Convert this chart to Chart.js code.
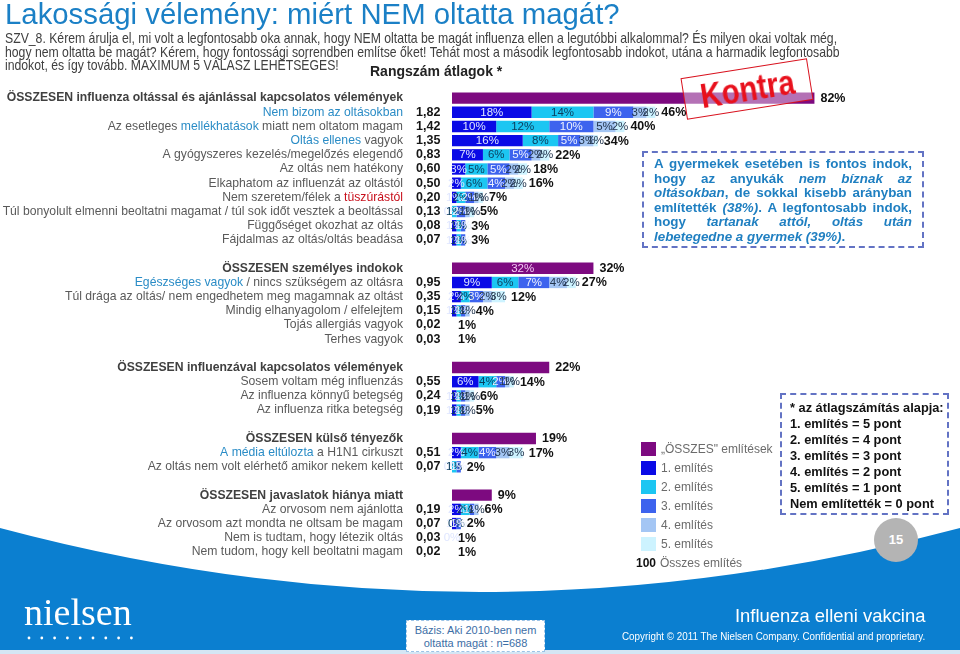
<!DOCTYPE html>
<html>
<head>
<meta charset="utf-8">
<script src="https://cdn.jsdelivr.net/npm/chart.js@4.4.0/dist/chart.umd.min.js"></script>
<style>
  body { margin:0; width:960px; height:654px; position:relative; overflow:hidden; background:#fff;
         font-family:"Liberation Sans", Arial, sans-serif; }
  .abs { position:absolute; white-space:nowrap; }
  #title { left:5px; top:-3px; font-size:30px; color:#1b80c6; transform-origin:left top; }
  #question { left:5px; top:32px; font-family:"Liberation Sans Narrow","Liberation Sans",Arial; font-size:14.5px;
              line-height:13.6px; color:#404040; transform-origin:left top; }
  #rank { left:370px; top:63px; font-family:"Liberation Sans Narrow","Liberation Sans",Arial; font-weight:bold;
          font-size:14px; color:#222; }
  #kontra { left:683px; top:68px; width:126px; height:40px; border:1.5px solid #d8101c;
            background:rgba(255,255,255,0.42); transform:rotate(-9deg); text-align:center; }
  #kontra span { display:inline-block; font-weight:bold; font-size:35px; line-height:40px; color:#e8101c;
                 transform:scaleX(0.84); }
  #note { left:642px; top:151px; width:258px; height:86px; padding:4px 10px 3px 10px; border:2px dashed #6373c4;
          color:#1f7fc1; font-weight:bold; font-size:13.4px; line-height:14.6px; white-space:normal; }
  #note div { text-align:justify; text-align-last:justify; }
  #note div.last { text-align-last:left; }
  #points { left:780px; top:393px; width:150px; height:113px; padding:5px 7px 0 8px; border:2px dashed #6373c4;
            color:#111; font-weight:bold; font-size:12.8px; line-height:16px; }
  #legend { left:641px; top:439px; font-size:12px; color:#6b6b6b; }
  #legend .row { height:19px; display:flex; align-items:center; }
  #legend .sw { width:15px; height:14px; margin-right:5px; }
  #circle { left:874px; top:518px; width:44px; height:44px; border-radius:50%; background:#b4b4b4; color:#fff;
            font-weight:bold; font-size:13px; line-height:44px; text-align:center; }
  #nielsen { left:24px; top:590px; font-family:"Liberation Serif","DejaVu Serif",serif; font-size:38px; color:#fff; }
  #dots { left:27px; top:635px; }
  #brand { left:735px; top:605px; font-family:"Liberation Sans Narrow","Liberation Sans",Arial; font-size:19px; color:#fff; transform-origin:left top; }
  #copy { left:622px; top:630px; font-family:"Liberation Sans Narrow","Liberation Sans",Arial; font-size:11px; color:#fff; transform-origin:left top; }
  #base { left:406px; top:620px; width:139px; height:32px; background:#fff; border:1px dashed #9cc3e6;
          font-family:"Liberation Sans Narrow","Liberation Sans",Arial; font-size:11px; line-height:13px;
          color:#3c6ea6; text-align:center; padding-top:3px; box-sizing:border-box; }
</style>
</head>
<body>
<svg class="abs" style="left:0;top:0" width="960" height="654">
  <path d="M0,528 Q480,656 960,528 L960,654 L0,654 Z" fill="#0b7fd0"/>
  <rect x="0" y="650" width="960" height="4" fill="#d5e6f4"/>
</svg>
<canvas id="chart" class="abs" style="left:0;top:0" width="960" height="654"></canvas>

<div id="title" class="abs">Lakossági vélemény: miért NEM oltatta magát?</div>
<div id="question" class="abs">
  <div>SZV_8. Kérem árulja el, mi volt a legfontosabb oka annak, hogy NEM oltatta be magát influenza ellen a legutóbbi alkalommal? És milyen okai voltak még,</div>
  <div>hogy nem oltatta be magát? Kérem, hogy fontossági sorrendben említse őket! Tehát most a második legfontosabb indokot, utána a harmadik legfontosabb</div>
  <div>indokot, és így tovább. MAXIMUM 5 VÁLASZ LEHETSÉGES!</div>
</div>
<div id="rank" class="abs">Rangszám átlagok *</div>
<div id="kontra" class="abs"><span>Kontra</span></div>
<div id="note" class="abs">
  <div>A gyermekek esetében is fontos indok,</div>
  <div>hogy az anyukák <i>nem bíznak az</i></div>
  <div><i>oltásokban</i>, de sokkal kisebb arányban</div>
  <div>említették <i>(38%)</i>. A legfontosabb indok,</div>
  <div>hogy <i>tartanak attól, oltás után</i></div>
  <div class="last"><i>lebetegedne a gyermek (39%)</i>.</div>
</div>
<div id="points" class="abs">
  <div>* az átlagszámítás alapja:</div>
  <div>1. említés = 5 pont</div>
  <div>2. említés = 4 pont</div>
  <div>3. említés = 3 pont</div>
  <div>4. említés = 2 pont</div>
  <div>5. említés = 1 pont</div>
  <div>Nem említették = 0 pont</div>
</div>
<div id="legend" class="abs"></div>
<div id="circle" class="abs">15</div>
<div id="nielsen" class="abs">nielsen</div>
<svg id="dots" class="abs" width="110" height="6"></svg>
<div id="brand" class="abs">Influenza elleni vakcina</div>
<div id="copy" class="abs">Copyright © 2011 The Nielsen Company. Confidential and proprietary.</div>
<div id="base" class="abs">Bázis: Aki 2010-ben nem<br>oltatta magát : n=688</div>

<script>
// sorok (üres sor = térköz a csoportok között)
const categories = [
  'ÖSSZESEN influenza oltással és ajánlással kapcsolatos vélemények',
  'Nem bizom az oltásokban',
  'Az esetleges mellékhatások miatt nem oltatom magam',
  'Oltás ellenes vagyok',
  'A gyógyszeres kezelés/megelőzés elegendő',
  'Az oltás nem hatékony',
  'Elkaphatom az influenzát az oltástól',
  'Nem szeretem/félek a tüszúrástól',
  'Túl bonyolult elmenni beoltatni magamat / túl sok időt vesztek a beoltással',
  'Függőséget okozhat az oltás',
  'Fájdalmas az oltás/oltás beadása',
  '',
  'ÖSSZESEN személyes indokok',
  'Egészséges vagyok / nincs szükségem az oltásra',
  'Túl drága az oltás/ nem engedhetem meg magamnak az oltást',
  'Mindig elhanyagolom / elfelejtem',
  'Tojás allergiás vagyok',
  'Terhes vagyok',
  '',
  'ÖSSZESEN influenzával kapcsolatos vélemények',
  'Sosem voltam még influenzás',
  'Az influenza könnyű betegség',
  'Az influenza ritka betegség',
  '',
  'ÖSSZESEN külső tényezők',
  'A média eltúlozta a H1N1 cirkuszt',
  'Az oltás nem volt elérhető amikor nekem kellett',
  '',
  'ÖSSZESEN javaslatok hiánya miatt',
  'Az orvosom nem ajánlotta',
  'Az orvosom azt mondta ne oltsam be magam',
  'Nem is tudtam, hogy létezik oltás',
  'Nem tudom, hogy kell beoltatni magam'
];
const emphasis = ['Nem bizom az oltásokban', 'mellékhatások', 'Oltás ellenes', 'Egészséges vagyok', 'A média eltúlozta'];
const warning = ['tüszúrástól'];

const rankAvg = [null,'1,82','1,42','1,35','0,83','0,60','0,50','0,20','0,13','0,08','0,07',null,
  null,'0,95','0,35','0,15','0,02','0,03',null,
  null,'0,55','0,24','0,19',null,
  null,'0,51','0,07',null,
  null,'0,19','0,07','0,03','0,02'];

const allMentions = [82,null,null,null,null,null,null,null,null,null,null,null,
  32,null,null,null,null,null,null,
  22,null,null,null,null,
  19,null,null,null,
  9,null,null,null,null];
const mention1 = [null,18,10,16,7,3,2,1,0,1,1,null, null,9,2,1,null,null,null, null,6,1,1,null, null,2,0,null, null,2,1,0,null];
const mention2 = [null,14,12,8,6,5,6,2,1,1,1,null, null,6,2,1,null,null,null, null,4,1,1,null, null,4,1,null, null,2,0,null,null];
const mention3 = [null,9,10,5,5,5,4,2,2,1,1,null, null,7,3,1,null,null,null, null,2,1,1,null, null,4,1,null, null,1,1,null,null];
const mention4 = [null,3,5,3,2,2,2,1,1,null,null,null, null,4,2,1,null,null,null, null,1,1,1,null, null,3,null,null, null,1,null,null,null];
const mention5 = [null,2,2,1,2,2,2,1,1,null,null,null, null,2,3,null,null,null,null, null,1,1,null,null, null,3,null,null, null,null,null,null,null];
const totals = [null,46,40,34,22,18,16,7,5,3,3,null, null,27,12,4,1,1,null, null,14,6,5,null, null,17,2,null, null,6,2,1,1];
const innerAllLabel = [12];

const seriesNames = ['„ÖSSZES" említések', '1. említés', '2. említés', '3. említés', '4. említés', '5. említés'];
const seriesColors = ['#7d0a80', '#0a0ae6', '#1cc6f2', '#3d63ee', '#a4c6f4', '#cdf3ff'];
const seriesText = ['#f3c8f3', '#dfe6ff', '#0b3d5c', '#eef2ff', '#23364f', '#23364f'];

const series = [allMentions, mention1, mention2, mention3, mention4, mention5];

function richParts(text, base) {
  for (const p of emphasis.concat(warning)) {
    const i = text.indexOf(p);
    if (i >= 0) {
      const col = warning.includes(p) ? '#c8101c' : '#2a8cc6';
      return [[text.slice(0, i), base], [p, col], [text.slice(i + p.length), base]];
    }
  }
  return [[text, base]];
}

const labelPlugin = {
  id: 'labels',
  afterDatasetsDraw(chart) {
    const ctx = chart.ctx;
    const yScale = chart.scales.y;
    ctx.save();
    ctx.textBaseline = 'middle';
    // bal oldali szövegek és rangszám átlagok
    categories.forEach((name, i) => {
      if (!name) return;
      const y = yScale.getPixelForValue(i);
      const header = rankAvg[i] === null;
      ctx.font = (header ? 'bold ' : '') + '12.2px "Liberation Sans", Arial';
      const parts = richParts(name, header ? '#404040' : '#5a5a5a');
      let x = 403 - parts.reduce((s, p) => s + ctx.measureText(p[0]).width, 0);
      ctx.textAlign = 'left';
      parts.forEach(p => { ctx.fillStyle = p[1]; ctx.fillText(p[0], x, y); x += ctx.measureText(p[0]).width; });
      if (!header) {
        ctx.font = 'bold 12.5px "Liberation Sans", Arial';
        ctx.fillStyle = '#151515';
        ctx.fillText(rankAvg[i], 416, y);
      }
    });
    // szegmens címkék
    ctx.font = '11.5px "Liberation Sans", Arial';
    ctx.textAlign = 'center';
    chart.data.datasets.forEach((ds, k) => {
      const meta = chart.getDatasetMeta(k);
      meta.data.forEach((bar, i) => {
        const v = ds.data[i];
        if (v === null) return;
        if (k === 0 && !innerAllLabel.includes(i)) return;
        ctx.fillStyle = seriesText[k];
        ctx.fillText(v + '%', (bar.x + bar.base) / 2, bar.y + 0.5);
      });
    });
    // összesen címkék
    ctx.font = 'bold 12.5px "Liberation Sans", Arial';
    ctx.textAlign = 'left';
    ctx.fillStyle = '#111';
    categories.forEach((name, i) => {
      const label = totals[i] !== null ? totals[i] : allMentions[i];
      if (label === null) return;
      let end = chart.chartArea.left;
      chart.data.datasets.forEach((ds, k) => {
        if (ds.data[i] !== null) end = Math.max(end, chart.getDatasetMeta(k).data[i].x);
      });
      ctx.fillText(label + '%', end + 6, yScale.getPixelForValue(i) + 0.5);
    });
    ctx.restore();
  }
};

const chart = new Chart(document.getElementById('chart'), {
  type: 'bar',
  data: {
    labels: categories,
    datasets: series.map((d, k) => ({
      label: seriesNames[k],
      data: d,
      backgroundColor: seriesColors[k],
      stack: 's',
      barPercentage: 0.8,
      categoryPercentage: 1
    }))
  },
  options: {
    indexAxis: 'y',
    responsive: false,
    animation: false,
    layout: { padding: { left: 452, right: 66, top: 91, bottom: 95 } },
    plugins: { legend: { display: false }, tooltip: { enabled: false } },
    scales: {
      x: { stacked: true, min: 0, max: 100, display: false },
      y: { stacked: true, display: false }
    }
  },
  plugins: [labelPlugin]
});

// jelmagyarázat
const legend = document.getElementById('legend');
chart.data.datasets.forEach(ds => {
  legend.insertAdjacentHTML('beforeend',
    '<div class="row"><span class="sw" style="background:' + ds.backgroundColor + '"></span>' + ds.label + '</div>');
});
legend.insertAdjacentHTML('beforeend',
  '<div class="row" style="margin-left:-5px"><b style="color:#111;margin-right:4px">100</b>Összes említés</div>');

// nielsen pontok
const dots = document.getElementById('dots');
for (let i = 0; i < 9; i++) {
  dots.insertAdjacentHTML('beforeend', '<circle cx="' + (2 + i * 12.8) + '" cy="3" r="1.4" fill="#fff"/>');
}

// szélesség igazítás a mintához
function fit(id, width) {
  const el = document.getElementById(id);
  el.style.transform = 'scaleX(' + (width / el.scrollWidth) + ')';
}
fit('title', 615);
fit('question', 835);
fit('brand', 190);
fit('copy', 303);
</script>
</body>
</html>
